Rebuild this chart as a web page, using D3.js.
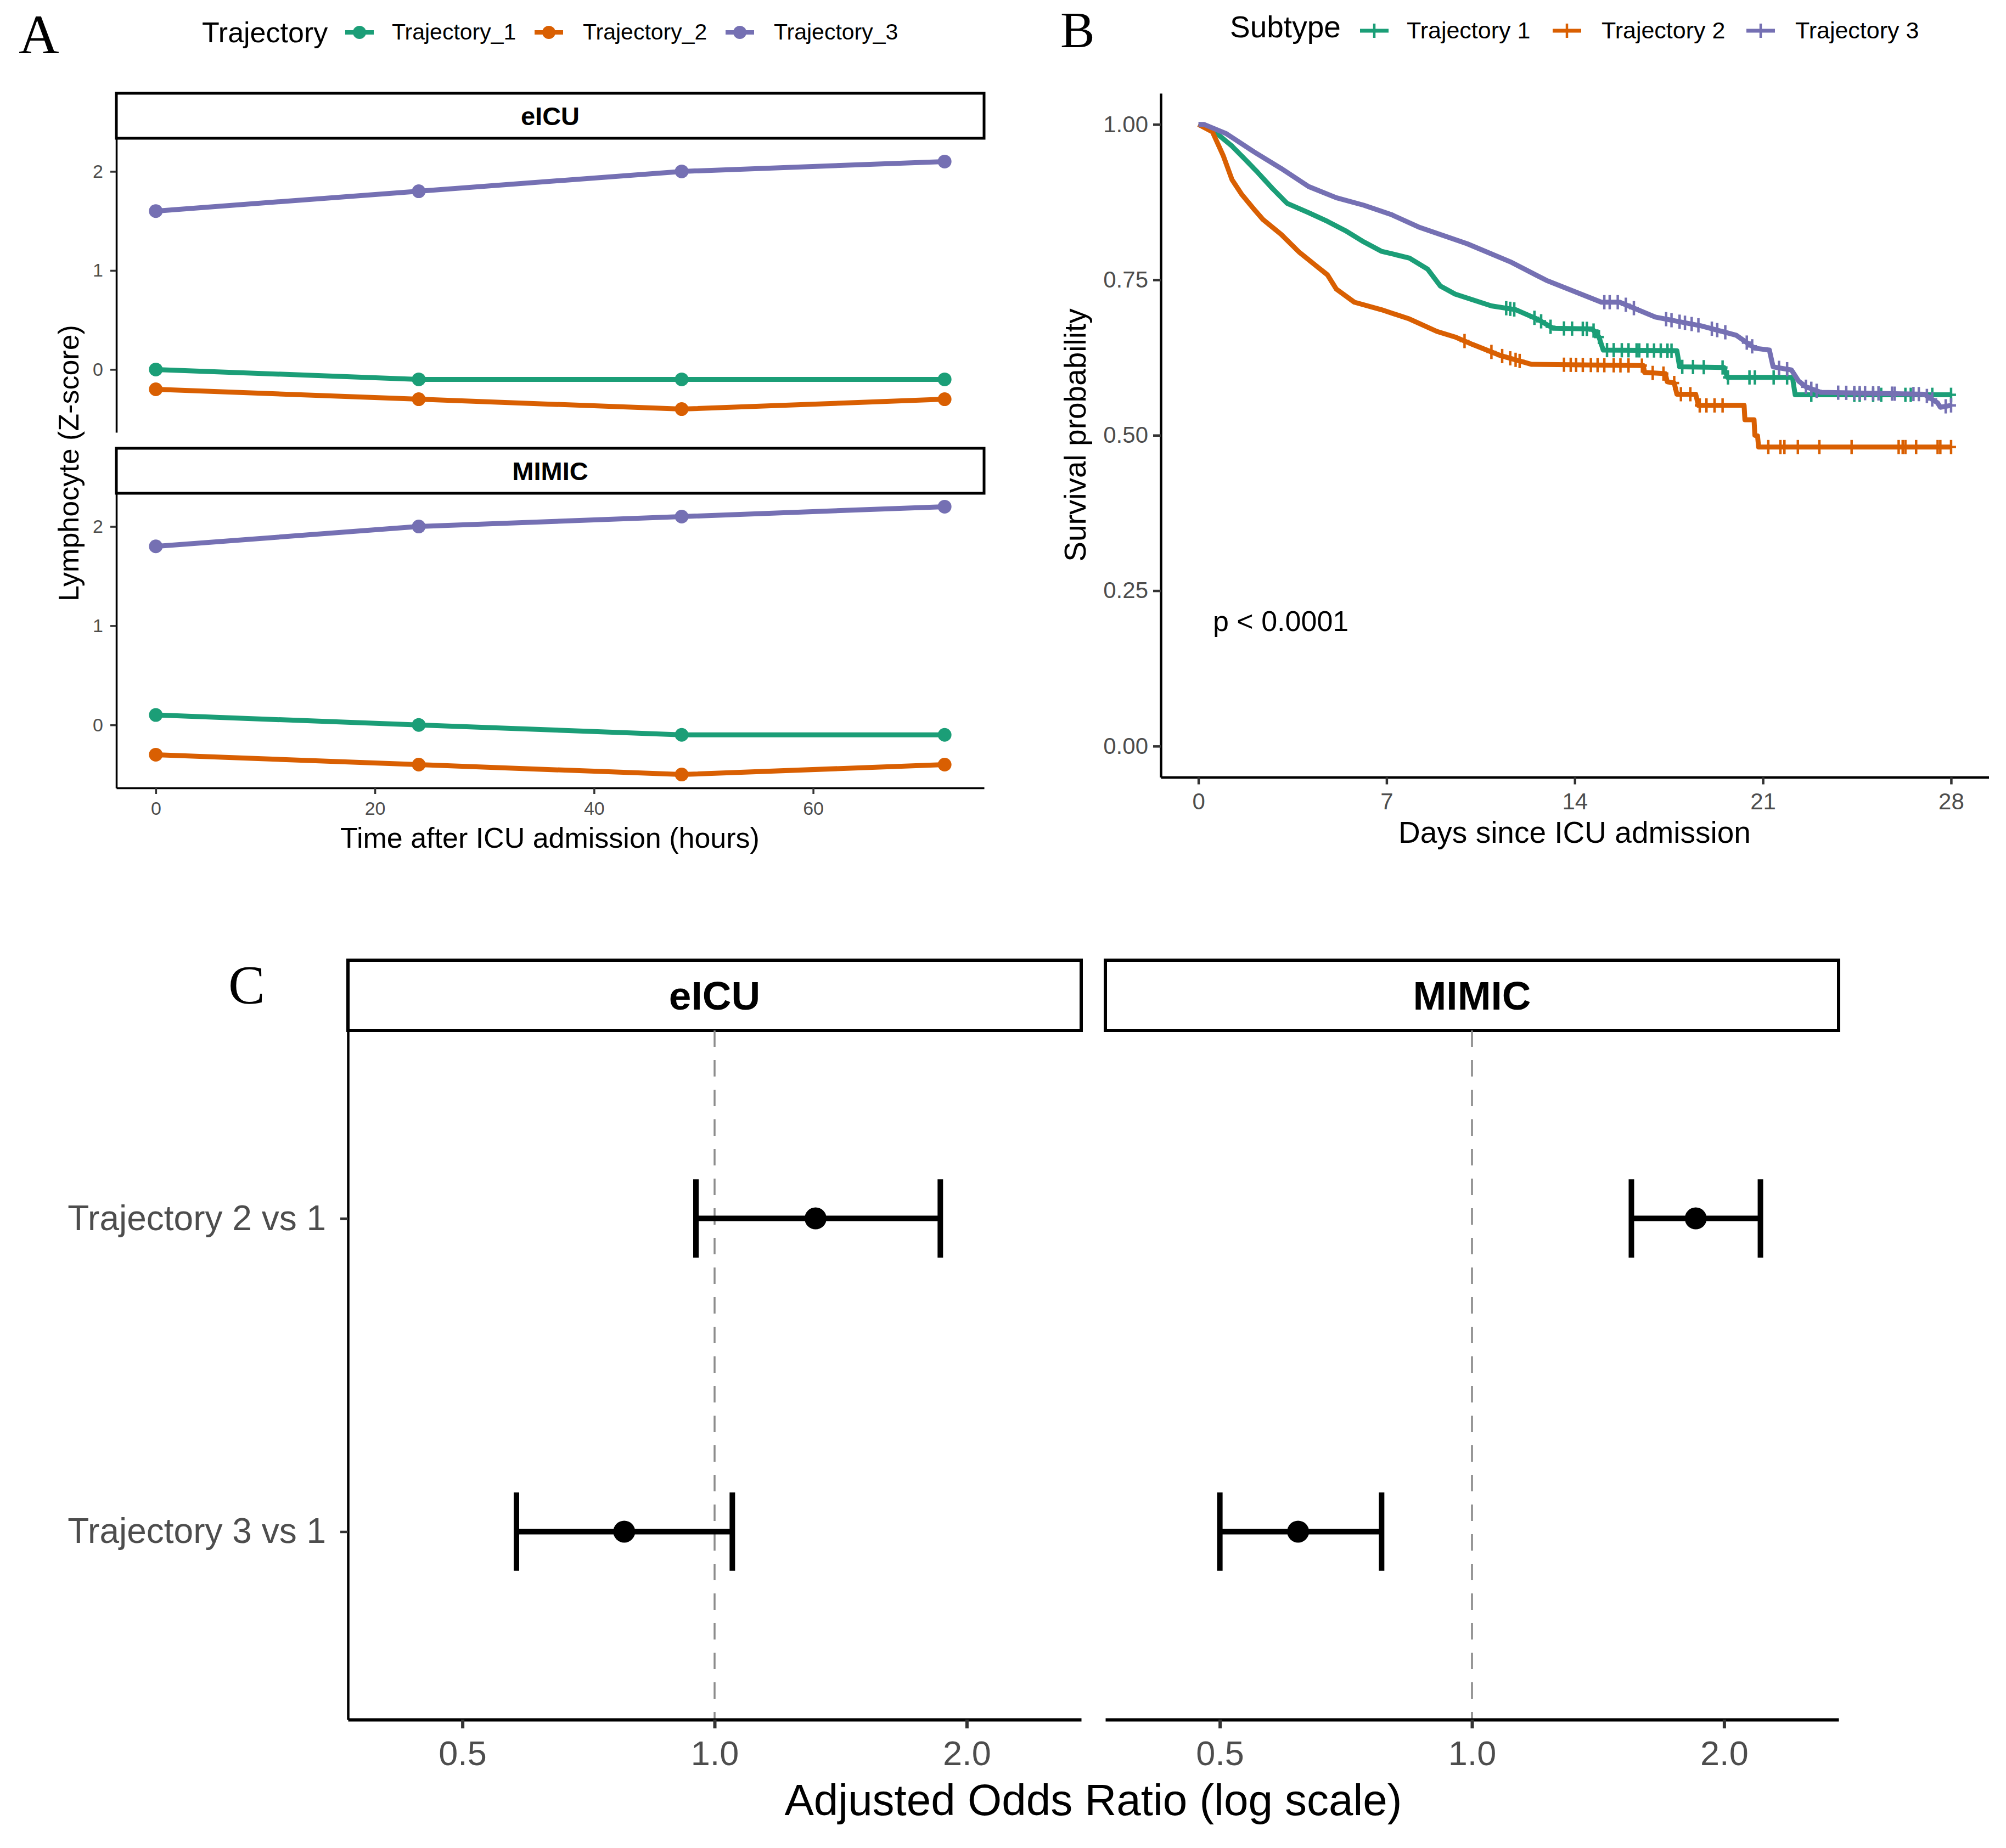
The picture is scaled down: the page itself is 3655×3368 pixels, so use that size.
<!DOCTYPE html>
<html>
<head>
<meta charset="utf-8">
<script src="https://cdn.jsdelivr.net/npm/d3@7"></script>
<style>
  body { margin: 0; background: #fff; }
</style>
</head>
<body>
<script>
// ---- Panel A data: lymphocyte z-score by hour ----
var hours = [0, 24, 48, 72];
var trajNames = ["Trajectory_1", "Trajectory_2", "Trajectory_3"];
var trajColors = ["#1B9E77", "#D95F02", "#7570B3"];
var eicuT1 = [0.0, -0.1, -0.1, -0.1];
var eicuT2 = [-0.2, -0.3, -0.4, -0.3];
var eicuT3 = [1.6, 1.8, 2.0, 2.1];
var mimicT1 = [0.1, 0.0, -0.1, -0.1];
var mimicT2 = [-0.3, -0.4, -0.5, -0.4];
var mimicT3 = [1.8, 2.0, 2.1, 2.2];
var hourTicks = [0, 20, 40, 60];
var zTicks = [0, 1, 2];

// ---- Panel B data: Kaplan-Meier curves [day, survival] ----
var subtypeNames = ["Trajectory 1", "Trajectory 2", "Trajectory 3"];
var km1 = [[0,1],[0.5,0.992],[1.25,0.965],[1.73,0.944],[2.2,0.923],[2.75,0.897],[3.3,0.873],[4.1,0.858],
  [4.8,0.844],[5.47,0.829],[6.15,0.811],[6.8,0.796],[7.85,0.785],[8.53,0.767],[9.0,0.740],[9.55,0.727],
  [10.9,0.708],[11.8,0.702],[12.6,0.687],[13.2,0.672],[14.65,0.671],[14.9,0.658],[15.06,0.637],[17.8,0.636],
  [17.9,0.610],[19.55,0.609],[19.68,0.593],[22.1,0.593],[22.2,0.565],[28,0.565]];
var km2 = [[0,1],[0.52,0.988],[0.92,0.950],[1.25,0.911],[1.6,0.888],[2.06,0.864],[2.4,0.847],[3.08,0.823],
  [3.76,0.794],[4.45,0.770],[4.8,0.758],[5.13,0.735],[5.8,0.714],[6.8,0.702],[7.85,0.687],[8.87,0.667],
  [9.55,0.658],[10.2,0.646],[11.25,0.628],[12.4,0.614],[16.55,0.612],[16.6,0.601],[17.37,0.599],[17.44,0.586],
  [17.7,0.584],[17.8,0.566],[18.5,0.566],[18.6,0.548],[20.3,0.548],[20.33,0.525],[20.67,0.525],[20.7,0.500],
  [20.8,0.499],[20.84,0.481],[28,0.481]];
var km3 = [[0,1],[0.2,1.0],[1.04,0.985],[2.06,0.956],[3.08,0.929],[4.1,0.900],[5.13,0.882],[6.15,0.870],
  [7.17,0.855],[8.19,0.835],[9.2,0.820],[10.0,0.808],[11.6,0.779],[12.95,0.749],[14.99,0.714],[15.67,0.714],
  [17.0,0.690],[18.7,0.676],[20.0,0.661],[20.7,0.640],[21.24,0.637],[21.38,0.610],[22.06,0.605],[22.33,0.587],
  [22.6,0.578],[23.15,0.569],[27.0,0.566],[27.5,0.552],[27.6,0.545],[28,0.548]];
var cens1 = [11.45,11.6,11.75,12.5,12.75,13.1,13.6,13.9,14.3,14.45,14.7,14.9,15.2,15.45,15.75,16.0,16.3,16.4,
  16.7,16.95,17.2,17.45,17.6,18.0,18.4,18.8,19.5,19.7,20.5,20.7,21.4,21.9,22.8,24.4,24.6,25.1,25.4,26.3,26.5,27.3,28.0];
var cens2 = [9.9,10.9,11.3,11.6,11.8,11.95,13.6,13.85,14.05,14.3,14.6,14.85,15.1,15.45,15.7,16.0,16.5,16.9,17.3,
  17.7,17.95,18.3,18.65,18.9,19.2,19.5,21.2,21.65,21.8,22.3,23.1,24.3,26.05,26.2,26.3,26.7,27.5,27.6,28.0];
var cens3 = [15.1,15.3,15.6,15.9,16.2,17.4,17.6,17.9,18.1,18.35,18.6,19.1,19.3,19.6,20.4,20.6,21.6,21.9,22.6,
  22.8,23.0,23.8,24.1,24.4,24.6,24.8,25.1,25.3,25.8,25.9,26.6,26.8,27.1,27.3,27.8,28.0];
var dayTicks = [0, 7, 14, 21, 28];
var survTicks = [0, 0.25, 0.5, 0.75, 1];

// ---- Panel C data: adjusted odds ratios ----
var comparisons = ["Trajectory 2 vs 1", "Trajectory 3 vs 1"];
var cohorts = ["eICU", "MIMIC"];
var orEicu = [1.32, 0.78];
var loEicu = [0.95, 0.58];
var hiEicu = [1.86, 1.05];
var orMimic = [1.85, 0.62];
var loMimic = [1.55, 0.50];
var hiMimic = [2.21, 0.78];
var orTicks = [0.5, 1.0, 2.0];
var orLimits = [0.4, 2.5];

var SANS = "'Liberation Sans', Arial, sans-serif";
var SERIF = "'Liberation Serif', 'Times New Roman', serif";
var GREY = "#4d4d4d";

var svg = d3.select("body").append("svg")
  .attr("width", 3655).attr("height", 3368)
  .attr("font-family", SANS);
svg.append("rect").attr("width", 3655).attr("height", 3368).attr("fill", "#fff");

function styleAxis(g, w, fs) {
  g.attr("font-family", SANS);
  g.select(".domain").attr("stroke-width", w).attr("stroke", "#000");
  g.selectAll(".tick line").attr("stroke-width", w).attr("stroke", "#333");
  g.selectAll(".tick text").attr("font-size", fs).attr("fill", GREY);
}

// =================== Panel A ===================
svg.append("text").attr("x", 34).attr("y", 97)
  .attr("font-family", SERIF).attr("font-size", 102).text("A");

var xA = d3.scaleLinear().domain([-3.6, 75.6]).range([212, 1793]);
var allZ = [].concat(eicuT1, eicuT2, eicuT3, mimicT1, mimicT2, mimicT3);
var zExt = d3.extent(allZ), zPad = (zExt[1] - zExt[0]) * 0.05;

var facetsA = [
  { name: "eICU", stripTop: 170, top: 252, bottom: 788, series: [eicuT1, eicuT2, eicuT3], xaxis: false },
  { name: "MIMIC", stripTop: 817, top: 899, bottom: 1436, series: [mimicT1, mimicT2, mimicT3], xaxis: true }
];

facetsA.forEach(function(f) {
  var y = d3.scaleLinear().domain([zExt[0] - zPad, zExt[1] + zPad]).range([f.bottom, f.top]);

  svg.append("rect").attr("x", 212).attr("y", f.stripTop)
    .attr("width", 1793 - 212).attr("height", f.top - f.stripTop)
    .attr("fill", "#fff").attr("stroke", "#000").attr("stroke-width", 5);
  svg.append("text").attr("x", (212 + 1793) / 2).attr("y", (f.stripTop + f.top) / 2 + 17)
    .attr("text-anchor", "middle").attr("font-weight", "bold").attr("font-size", 47).text(f.name);

  var gy = svg.append("g").attr("transform", "translate(212,0)")
    .call(d3.axisLeft(y).tickValues(zTicks).tickFormat(d3.format("d"))
      .tickSize(11).tickSizeOuter(0).tickPadding(13));
  styleAxis(gy, 3.5, 34);

  if (f.xaxis) {
    var gx = svg.append("g").attr("transform", "translate(0," + f.bottom + ")")
      .call(d3.axisBottom(xA).tickValues(hourTicks).tickSize(11).tickSizeOuter(0).tickPadding(14));
    styleAxis(gx, 3.5, 34);
  }

  var line = d3.line().x(function(d, i) { return xA(hours[i]); }).y(function(d) { return y(d); });
  f.series.forEach(function(s, k) {
    svg.append("path").attr("d", line(s)).attr("fill", "none")
      .attr("stroke", trajColors[k]).attr("stroke-width", 9).attr("stroke-linejoin", "round");
    svg.append("g").selectAll("circle").data(s).join("circle")
      .attr("cx", function(d, i) { return xA(hours[i]); })
      .attr("cy", function(d) { return y(d); })
      .attr("r", 12.5).attr("fill", trajColors[k]);
  });
});

svg.append("text").attr("x", 1002).attr("y", 1545).attr("text-anchor", "middle")
  .attr("font-size", 52).text("Time after ICU admission (hours)");
svg.append("text").attr("transform", "translate(143,844) rotate(-90)").attr("text-anchor", "middle")
  .attr("font-size", 52).text("Lymphocyte (Z-score)");

// legend A
svg.append("text").attr("x", 368).attr("y", 77).attr("font-size", 52).text("Trajectory");
var legAKeys = [655, 1000, 1348], legALabels = [714, 1062, 1410];
trajNames.forEach(function(n, k) {
  svg.append("line").attr("x1", legAKeys[k] - 26).attr("x2", legAKeys[k] + 26)
    .attr("y1", 59).attr("y2", 59).attr("stroke", trajColors[k]).attr("stroke-width", 8);
  svg.append("circle").attr("cx", legAKeys[k]).attr("cy", 59).attr("r", 12).attr("fill", trajColors[k]);
  svg.append("text").attr("x", legALabels[k]).attr("y", 72).attr("font-size", 41).text(n);
});

// =================== Panel B ===================
svg.append("text").attr("x", 1932).attr("y", 86)
  .attr("font-family", SERIF).attr("font-size", 94).text("B");

var xB = d3.scaleLinear().domain([-1.4, 29.4]).range([2115, 3623.5]);
var yB = d3.scaleLinear().domain([-0.05, 1.05]).range([1416.5, 170]);

var gyB = svg.append("g").attr("transform", "translate(2115,0)")
  .call(d3.axisLeft(yB).tickValues(survTicks).tickFormat(d3.format(".2f"))
    .tickSize(14).tickSizeOuter(0).tickPadding(9));
styleAxis(gyB, 4.5, 42);
var gxB = svg.append("g").attr("transform", "translate(0,1416.5)")
  .call(d3.axisBottom(xB).tickValues(dayTicks).tickSize(13).tickSizeOuter(0).tickPadding(16));
styleAxis(gxB, 4.5, 42);

function survAt(curve, t) {
  for (var i = curve.length - 1; i >= 0; i--) {
    if (curve[i][0] <= t) {
      if (i === curve.length - 1) return curve[i][1];
      var a = curve[i], b = curve[i + 1];
      if (b[0] === a[0]) return b[1];
      return a[1] + (b[1] - a[1]) * (t - a[0]) / (b[0] - a[0]);
    }
  }
  return curve[0][1];
}

var kmLine = d3.line().x(function(d) { return xB(d[0]); }).y(function(d) { return yB(d[1]); });
var kmCurves = [km1, km2, km3], kmCens = [cens1, cens2, cens3];
kmCurves.forEach(function(c, k) {
  svg.append("path").attr("d", kmLine(c)).attr("fill", "none")
    .attr("stroke", trajColors[k]).attr("stroke-width", 9).attr("stroke-linejoin", "round");
  var g = svg.append("g").attr("stroke", trajColors[k]).attr("stroke-width", 4.5);
  kmCens[k].forEach(function(t) {
    var cx = xB(t), cy = yB(survAt(c, t));
    g.append("line").attr("x1", cx).attr("x2", cx).attr("y1", cy - 13).attr("y2", cy + 13);
    g.append("line").attr("x1", cx - 9).attr("x2", cx + 9).attr("y1", cy).attr("y2", cy);
  });
});

svg.append("text").attr("x", 2210).attr("y", 1150).attr("font-size", 52).text("p < 0.0001");
svg.append("text").attr("x", 2869).attr("y", 1536).attr("text-anchor", "middle")
  .attr("font-size", 55).text("Days since ICU admission");
svg.append("text").attr("transform", "translate(1978,793) rotate(-90)").attr("text-anchor", "middle")
  .attr("font-size", 55).text("Survival probability");

// legend B
svg.append("text").attr("x", 2241).attr("y", 68).attr("font-size", 55).text("Subtype");
var legBKeys = [2504, 2855, 3208], legBLabels = [2563, 2918, 3271];
subtypeNames.forEach(function(n, k) {
  var g = svg.append("g").attr("stroke", trajColors[k]).attr("stroke-width", 7);
  g.append("line").attr("x1", legBKeys[k] - 26).attr("x2", legBKeys[k] + 26).attr("y1", 56).attr("y2", 56);
  g.append("line").attr("x1", legBKeys[k]).attr("x2", legBKeys[k]).attr("y1", 43).attr("y2", 69)
    .attr("stroke-width", 4.5);
  svg.append("text").attr("x", legBLabels[k]).attr("y", 70).attr("font-size", 43).text(n);
});

// =================== Panel C ===================
svg.append("text").attr("x", 416).attr("y", 1828)
  .attr("font-family", SERIF).attr("font-size", 100).text("C");

var logSpan = Math.log10(orLimits[1]) - Math.log10(orLimits[0]);
var orDomain = [Math.pow(10, Math.log10(orLimits[0]) - 0.05 * logSpan),
                Math.pow(10, Math.log10(orLimits[1]) + 0.05 * logSpan)];
var yC = d3.scalePoint().domain(comparisons).range([1878, 3134]).padding(0.6);
var capHalf = 0.125 * yC.step();

var facetsC = [
  { name: cohorts[0], left: 634, right: 1970, or: orEicu, lo: loEicu, hi: hiEicu, yaxis: true },
  { name: cohorts[1], left: 2014, right: 3350, or: orMimic, lo: loMimic, hi: hiMimic, yaxis: false }
];

facetsC.forEach(function(f) {
  var x = d3.scaleLog().domain(orDomain).range([f.left, f.right]);

  svg.append("rect").attr("x", f.left).attr("y", 1750).attr("width", f.right - f.left).attr("height", 128)
    .attr("fill", "#fff").attr("stroke", "#000").attr("stroke-width", 6);
  svg.append("text").attr("x", (f.left + f.right) / 2).attr("y", 1840).attr("text-anchor", "middle")
    .attr("font-weight", "bold").attr("font-size", 73).text(f.name);

  svg.append("line").attr("x1", x(1)).attr("x2", x(1)).attr("y1", 1878).attr("y2", 3134)
    .attr("stroke", "#8c8c8c").attr("stroke-width", 3.5).attr("stroke-dasharray", "30,24");

  var gx = svg.append("g").attr("transform", "translate(0,3134)")
    .call(d3.axisBottom(x).tickValues(orTicks).tickFormat(d3.format(".1f"))
      .tickSize(16).tickSizeOuter(0).tickPadding(22));
  styleAxis(gx, 6, 63);

  if (f.yaxis) {
    var gy = svg.append("g").attr("transform", "translate(" + f.left + ",0)")
      .call(d3.axisLeft(yC).tickSize(14).tickSizeOuter(0).tickPadding(26));
    styleAxis(gy, 4.5, 64);
  }

  comparisons.forEach(function(c, i) {
    var cy = yC(c);
    var g = svg.append("g").attr("stroke", "#000").attr("stroke-width", 10);
    g.append("line").attr("x1", x(f.lo[i])).attr("x2", x(f.hi[i])).attr("y1", cy).attr("y2", cy);
    g.append("line").attr("x1", x(f.lo[i])).attr("x2", x(f.lo[i])).attr("y1", cy - capHalf).attr("y2", cy + capHalf);
    g.append("line").attr("x1", x(f.hi[i])).attr("x2", x(f.hi[i])).attr("y1", cy - capHalf).attr("y2", cy + capHalf);
    svg.append("circle").attr("cx", x(f.or[i])).attr("cy", cy).attr("r", 20).attr("fill", "#000");
  });
});

svg.append("text").attr("x", 1992).attr("y", 3308).attr("text-anchor", "middle")
  .attr("font-size", 80).text("Adjusted Odds Ratio (log scale)");
</script>
</body>
</html>
